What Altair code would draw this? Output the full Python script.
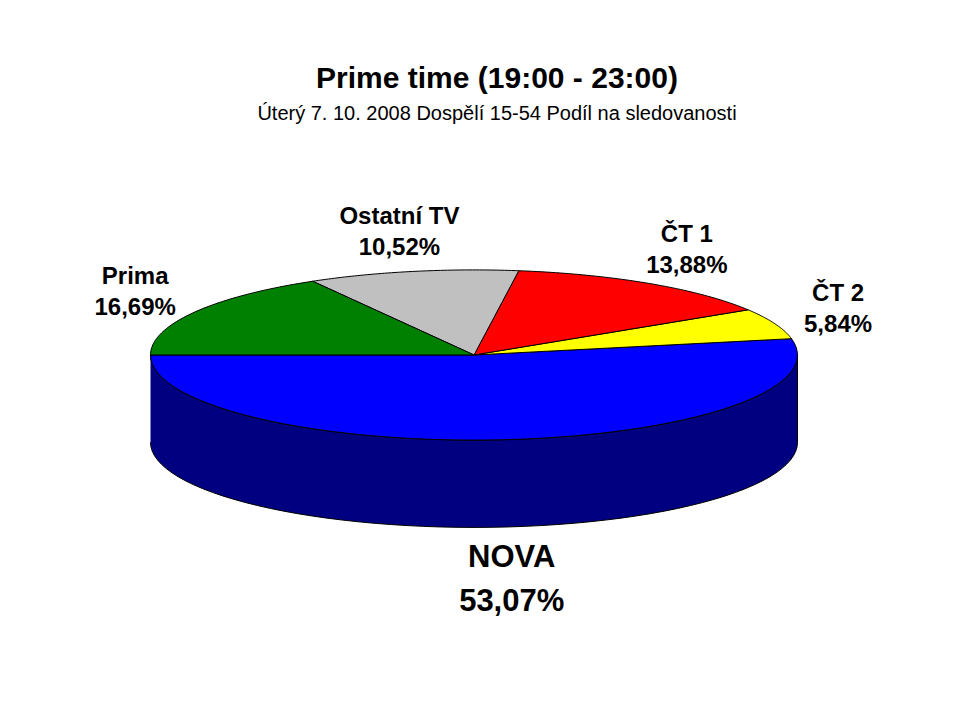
import altair as alt
import pandas as pd

# ---- data ----
labels = ["NOVA", "ČT 2", "ČT 1", "Ostatní TV", "Prima"]
shares = [53.07, 5.84, 13.88, 10.52, 16.69]
top_colors = ["#0000ff", "#ffff00", "#ff0000", "#c0c0c0", "#008000"]
side_colors = ["#000080", "#808000", "#800000", "#808080", "#004000"]

title_text = "Prime time (19:00 - 23:00)"
subtitle_text = "Úterý 7. 10. 2008 Dospělí 15-54  Podíl na sledovanosti"

# ---- geometry / style constants ----
N = 60            # arc resolution
TILT = 0.263      # vertical squash of the top ellipse
DEPTH = 0.27      # pie thickness
LX, LY = 1.21, 0.386
W, H = 940, 680
XDOM = [-1.4405, 1.4652]
YDOM = [-1.0294, 1.0726]

df = pd.DataFrame({"label": labels, "share": shares, "order": list(range(len(labels)))})

xs = alt.X("px:Q", scale=alt.Scale(domain=XDOM, nice=False, zero=False), axis=None)
ys = alt.Y("py:Q", scale=alt.Scale(domain=YDOM, nice=False, zero=False), axis=None)

base = alt.Chart(df).transform_window(
    cum="sum(share)", sort=[alt.SortField("order")], frame=[None, 0]
).transform_calculate(
    a0="PI + (datum.cum - datum.share) / 100 * 2 * PI",
    a1="PI + datum.cum / 100 * 2 * PI",
)

# side walls (front half only)
side = base.transform_calculate(
    b0="max(datum.a0, PI)", b1="min(datum.a1, 2 * PI)"
).transform_filter("datum.b1 > datum.b0").transform_calculate(
    step=f"sequence(0, {2 * N + 2})"
).transform_flatten(["step"]).transform_calculate(
    k=f"datum.step <= {N} ? datum.step : {2 * N + 1} - datum.step",
).transform_calculate(
    ang=f"datum.b0 + (datum.b1 - datum.b0) * datum.k / {N}",
).transform_calculate(
    px="cos(datum.ang)",
    py=f"sin(datum.ang) * {TILT} - (datum.step > {N} ? {DEPTH} : 0)",
).mark_line(stroke="black", strokeWidth=1, interpolate="linear").encode(
    x=xs, y=ys, order="step:Q", detail="label:N",
    fill=alt.Fill("label:N", scale=alt.Scale(domain=labels, range=side_colors), legend=None),
)

# top wedges
top = base.transform_calculate(
    step=f"sequence(-1, {N + 2})"
).transform_flatten(["step"]).transform_calculate(
    ang=f"datum.a0 + (datum.a1 - datum.a0) * clamp(datum.step, 0, {N}) / {N}",
).transform_calculate(
    px=f"(datum.step < 0 || datum.step > {N}) ? 0 : cos(datum.ang)",
    py=f"(datum.step < 0 || datum.step > {N}) ? 0 : sin(datum.ang) * {TILT}",
).mark_line(stroke="black", strokeWidth=1, interpolate="linear").encode(
    x=xs, y=ys, order="step:Q", detail="label:N",
    fill=alt.Fill("label:N", scale=alt.Scale(domain=labels, range=top_colors), legend=None),
)

# labels
lab = base.transform_calculate(
    mid="(datum.a0 + datum.a1) / 2",
).transform_calculate(
    px=f"cos(datum.mid) * {LX}",
    cy=f"sin(datum.mid) * {LY} - (sin(datum.mid) < 0 ? {DEPTH + 0.04} : 0)",
    off="datum.label == 'NOVA' ? 0.068 : 0.048",
    pct="replace(format(datum.share, '.2f'), '.', ',') + '%'",
).transform_calculate(
    py_name="datum.cy + datum.off",
    py_pct="datum.cy - datum.off",
)

fsize = alt.condition("datum.label == 'NOVA'", alt.value(31), alt.value(24))
name_txt = lab.mark_text(font="Liberation Sans", fontWeight="bold", color="black",
                         align="center", baseline="middle").encode(
    x=xs, y=alt.Y("py_name:Q", scale=alt.Scale(domain=YDOM, nice=False, zero=False), axis=None),
    text="label:N", size=fsize,
)
pct_txt = lab.mark_text(font="Liberation Sans", fontWeight="bold", color="black",
                        align="center", baseline="middle").encode(
    x=xs, y=alt.Y("py_pct:Q", scale=alt.Scale(domain=YDOM, nice=False, zero=False), axis=None),
    text="pct:N", size=fsize,
)

chart = alt.layer(side, top, name_txt, pct_txt).resolve_scale(
    fill="independent"
).properties(
    width=W, height=H,
    title=alt.TitleParams(
        text=title_text, subtitle=subtitle_text,
        font="Liberation Sans", fontSize=30, fontWeight="bold", color="black",
        subtitleFont="Liberation Sans", subtitleFontSize=20, subtitleColor="black",
        subtitlePadding=10, anchor="middle", dx=19, dy=120,
    ),
).configure_view(stroke=None).properties(
    padding=0, autosize=alt.AutoSizeParams(type="none"), background="white"
)

chart.save("out.html", embed_options={"renderer": "svg", "actions": False})
